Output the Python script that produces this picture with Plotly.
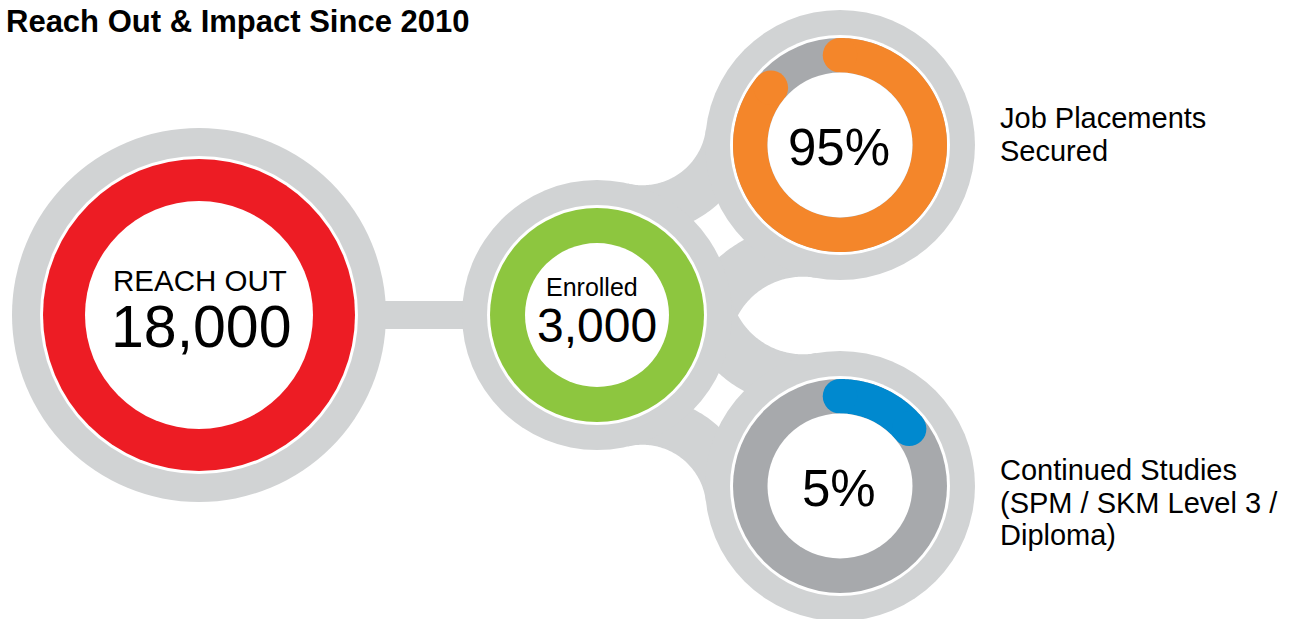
import numpy as np
import plotly.graph_objects as go

# ---------------- data ----------------
title_text = "Reach Out & Impact Since 2010"
reach_label = "REACH OUT"
reach_value = 18000
enrolled_label = "Enrolled"
enrolled_value = 3000
outcome_pct = [95, 5]                      # printed values
outcome_arc_pct = [86, 14]                 # sweep of coloured arcs as drawn in the graphic
outcome_label_lines = [["Job Placements", "Secured"],
                       ["Continued Studies", "(SPM / SKM Level 3 /", "Diploma)"]]
outcome_colors = ["#F4862A", "#0089CF"]

# ---------------- styling / geometry ----------------
W, H = 1295, 619
LIGHT = "#D1D3D4"
DARK = "#A7A9AC"
RED = "#ED1C24"
GREEN = "#8DC63F"
WHITE = "#FFFFFF"
FONT = "Helvetica Neue, Helvetica, Arial, Liberation Sans, sans-serif"

reach_c = (199, 315)
enr_c = (597, 315)
out_c = [(840, 145), (840, 486)]
R_GRAY_SMALL = 135

shapes = []


def circle(c, r, color):
    shapes.append(dict(type="circle", xref="x", yref="y",
                       x0=c[0] - r, x1=c[0] + r, y0=c[1] - r, y1=c[1] + r,
                       fillcolor=color, line=dict(width=0), layer="above"))


def poly_path(xs, ys):
    pts = " L ".join(f"{x:.2f},{y:.2f}" for x, y in zip(xs, ys))
    return "M " + pts + " Z"


def path(xs, ys, color):
    shapes.append(dict(type="path", xref="x", yref="y", path=poly_path(xs, ys),
                       fillcolor=color, line=dict(width=0), layer="above"))


def fillet_centers(A, B, rA, rB, rf):
    A = np.array(A, float); B = np.array(B, float)
    RA, RB = rA + rf, rB + rf
    d = np.linalg.norm(B - A)
    a = (RA ** 2 - RB ** 2 + d ** 2) / (2 * d)
    h = np.sqrt(max(RA ** 2 - a ** 2, 0))
    u = (B - A) / d
    P = A + a * u
    perp = np.array([-u[1], u[0]])
    return P + h * perp, P - h * perp


def band(C, r_in, r_out, A, B, color):
    a1 = np.arctan2(A[1] - C[1], A[0] - C[0])
    a2 = np.arctan2(B[1] - C[1], B[0] - C[0])
    da = (a2 - a1 + np.pi) % (2 * np.pi) - np.pi
    t = np.linspace(a1, a1 + da, 80)
    xs = np.concatenate([C[0] + r_out * np.cos(t), C[0] + r_in * np.cos(t[::-1])])
    ys = np.concatenate([C[1] + r_out * np.sin(t), C[1] + r_in * np.sin(t[::-1])])
    path(xs, ys, color)


# connector bar between reach-out and enrolled
shapes.append(dict(type="rect", xref="x", yref="y", x0=reach_c[0], x1=enr_c[0],
                   y0=reach_c[1] - 14, y1=reach_c[1] + 14,
                   fillcolor=LIGHT, line=dict(width=0), layer="above"))

# curved bands between enrolled and the two outcome circles
for k, oc in enumerate(out_c):
    other = np.array(out_c[1 - k], float)
    c1, c2 = fillet_centers(enr_c, oc, R_GRAY_SMALL, R_GRAY_SMALL, 64)
    outer = c1 if np.linalg.norm(c1 - other) > np.linalg.norm(c2 - other) else c2
    band(outer, 64, 112, enr_c, oc, LIGHT)
    c1, c2 = fillet_centers(enr_c, oc, R_GRAY_SMALL, R_GRAY_SMALL, 74)
    inner = c1 if np.linalg.norm(c1 - other) < np.linalg.norm(c2 - other) else c2
    band(inner, 74, 125.5, enr_c, oc, LIGHT)

# gray backing discs
circle(reach_c, 187, LIGHT)
circle(enr_c, R_GRAY_SMALL, LIGHT)
for oc in out_c:
    circle(oc, R_GRAY_SMALL, LIGHT)

# white gaps
circle(reach_c, 159, WHITE)
circle(enr_c, 110, WHITE)
for oc in out_c:
    circle(oc, 110, WHITE)

# coloured rings
circle(reach_c, 156, RED)
circle(enr_c, 107, GREEN)
for oc in out_c:
    circle(oc, 107, DARK)

# progress arcs with round caps
r_in_arc, r_out_arc = 72.5, 107
r_mid = (r_in_arc + r_out_arc) / 2
half_w = (r_out_arc - r_in_arc) / 2
for oc, pct, col in zip(out_c, outcome_arc_pct, outcome_colors):
    phi = np.linspace(0, 2 * np.pi * pct / 100, 200)
    xs = np.concatenate([oc[0] + r_out_arc * np.sin(phi), oc[0] + r_in_arc * np.sin(phi[::-1])])
    ys = np.concatenate([oc[1] - r_out_arc * np.cos(phi), oc[1] - r_in_arc * np.cos(phi[::-1])])
    path(xs, ys, col)
    for p in (phi[0], phi[-1]):
        circle((oc[0] + r_mid * np.sin(p), oc[1] - r_mid * np.cos(p)), half_w, col)

# inner white discs
circle(reach_c, 114, WHITE)
circle(enr_c, 72, WHITE)
for oc in out_c:
    circle(oc, 72.5, WHITE)

# ---------------- text ----------------
ann = []


def text(x, y, s, size, xanchor="center", bold=False):
    ann.append(dict(x=x, y=y, xref="x", yref="y", text=s, showarrow=False,
                    xanchor=xanchor, yanchor="middle",
                    font=dict(family=FONT, size=size, color="#000000",
                              weight="bold" if bold else "normal")))


text(4, 21, title_text, 31, xanchor="left", bold=True)
text(reach_c[0] + 1, 280, reach_label, 29.5)
text(reach_c[0] + 2, 327, f"{reach_value:,}", 59)
text(enr_c[0] - 5, 287, enrolled_label, 25)
text(enr_c[0], 325, f"{enrolled_value:,}", 48)
for oc, pct in zip(out_c, outcome_pct):
    text(oc[0] - 1, oc[1] + 2, f"{pct}%", 51)

label_tops = [118, 470]
for lines, y0 in zip(outcome_label_lines, label_tops):
    for i, ln in enumerate(lines):
        text(998, y0 + i * 32.5, ln, 29, xanchor="left")

fig = go.Figure()
fig.update_layout(
    width=W, height=H, margin=dict(l=0, r=0, t=0, b=0),
    paper_bgcolor=WHITE, plot_bgcolor=WHITE,
    xaxis=dict(range=[0, W], visible=False, fixedrange=True),
    yaxis=dict(range=[H, 0], visible=False, fixedrange=True),
    shapes=shapes, annotations=ann, showlegend=False,
)
fig.write_html("out.html",
               config={"displayModeBar": False, "staticPlot": True},
               post_script="document.body.style.margin='0';document.body.style.overflow='hidden';")
